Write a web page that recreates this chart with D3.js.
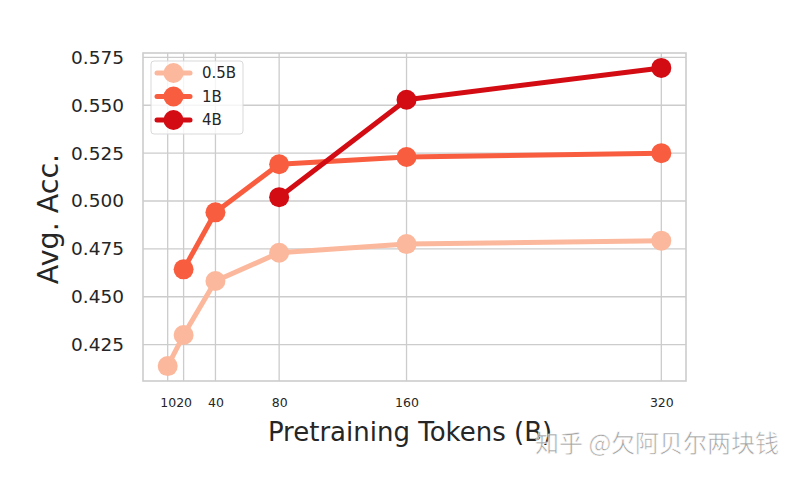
<!DOCTYPE html>
<html lang="en">
	<head>
		<meta charset="utf-8">
		<title>Avg. Acc. vs pretraining tokens</title>
		<script type="text/javascript" src="https://cdn.jsdelivr.net/npm/d3@7"></script>
		<style type="text/css">
			body { margin: 0; background: #fff; }
			text { font-family: "DejaVu Sans", sans-serif; }
		</style>
	</head>
	<body>
		<script type="text/javascript">

			//Data
			var tokens = [10, 20, 40, 80, 160, 320];
			var seriesNames = ["0.5B", "1B", "4B"];
			var acc05 = [0.4138, 0.430, 0.4582, 0.4730, 0.4775, 0.4793];
			var acc1 = [null, 0.4643, 0.4941, 0.5192, 0.5230, 0.5250];
			var acc4 = [null, null, null, 0.5020, 0.5529, 0.5695];
			var yTicks = [0.425, 0.450, 0.475, 0.500, 0.525, 0.550, 0.575];
			var colors = ["#fcb89c", "#f95d3f", "#d30b13"];

			var w = 794;
			var h = 480;
			//plot box (note: "top" is taken by window.top, so use px*)
			var pxLeft = 143, pxRight = 686, pxTop = 53, pxBottom = 381;

			var svg = d3.select("body")
						.append("svg")
						.attr("width", w)
						.attr("height", h);

			var xScale = d3.scaleLinear()
						.domain([-5.5, 335.5])
						.range([pxLeft, pxRight]);

			var yScale = d3.scaleLinear()
						.domain([0.406, 0.5773])
						.range([pxBottom, pxTop]);

			//grid
			svg.append("g")
				.selectAll("line")
				.data(tokens)
				.enter()
				.append("line")
				.attr("x1", function(d) { return xScale(d); })
				.attr("x2", function(d) { return xScale(d); })
				.attr("y1", pxTop)
				.attr("y2", pxBottom)
				.attr("stroke", "#cccccc")
				.attr("stroke-width", 1.3);

			svg.append("g")
				.selectAll("line")
				.data(yTicks)
				.enter()
				.append("line")
				.attr("x1", pxLeft)
				.attr("x2", pxRight)
				.attr("y1", function(d) { return yScale(d); })
				.attr("y2", function(d) { return yScale(d); })
				.attr("stroke", "#cccccc")
				.attr("stroke-width", 1.3);

			//frame
			svg.append("rect")
				.attr("x", pxLeft)
				.attr("y", pxTop)
				.attr("width", pxRight - pxLeft)
				.attr("height", pxBottom - pxTop)
				.attr("fill", "none")
				.attr("stroke", "#cccccc")
				.attr("stroke-width", 1.6);

			//axes (labels only)
			var yAxis = d3.axisLeft(yScale)
						.tickValues(yTicks)
						.tickFormat(d3.format(".3f"))
						.tickSize(0)
						.tickPadding(19);
			var gy = svg.append("g")
						.attr("transform", "translate(" + pxLeft + ",0)")
						.call(yAxis);
			gy.select(".domain").remove();
			gy.selectAll("text")
				.attr("font-size", "18.5px")
				.attr("fill", "#262626")
				.style("font-family", "DejaVu Sans");

			var xAxis = d3.axisBottom(xScale)
						.tickValues(tokens)
						.tickFormat(d3.format("d"))
						.tickSize(0)
						.tickPadding(17);
			var gx = svg.append("g")
						.attr("transform", "translate(0," + pxBottom + ")")
						.call(xAxis);
			gx.select(".domain").remove();
			gx.selectAll("text")
				.attr("font-size", "12.5px")
				.attr("fill", "#262626")
				.style("font-family", "DejaVu Sans");

			svg.append("text")
				.attr("x", 410)
				.attr("y", 441)
				.attr("text-anchor", "middle")
				.attr("font-size", "26px")
				.attr("fill", "#262626")
				.text("Pretraining Tokens (B)");

			svg.append("text")
				.attr("transform", "translate(58,219) rotate(-90)")
				.attr("text-anchor", "middle")
				.attr("font-size", "28.5px")
				.attr("fill", "#262626")
				.text("Avg. Acc.");

			//lines and markers
			var allSeries = [acc05, acc1, acc4];
			var line = d3.line()
						.defined(function(d) { return d[1] !== null; })
						.x(function(d) { return xScale(d[0]); })
						.y(function(d) { return yScale(d[1]); });

			allSeries.forEach(function(vals, i) {
				var pts = tokens.map(function(t, j) { return [t, vals[j]]; });
				svg.append("path")
					.datum(pts)
					.attr("d", line)
					.attr("fill", "none")
					.attr("stroke", colors[i])
					.attr("stroke-width", 5)
					.attr("stroke-linejoin", "round");
				svg.append("g")
					.selectAll("circle")
					.data(pts.filter(function(d) { return d[1] !== null; }))
					.enter()
					.append("circle")
					.attr("cx", function(d) { return xScale(d[0]); })
					.attr("cy", function(d) { return yScale(d[1]); })
					.attr("r", 10)
					.attr("fill", colors[i]);
			});

			//legend
			var legend = svg.append("g");
			legend.append("rect")
				.attr("x", 151)
				.attr("y", 61)
				.attr("width", 92)
				.attr("height", 73)
				.attr("rx", 3)
				.attr("fill", "#ffffff")
				.attr("fill-opacity", 0.8)
				.attr("stroke", "#d9d9d9")
				.attr("stroke-width", 1);

			seriesNames.forEach(function(name, i) {
				var ly = 73 + i * 23.5;
				legend.append("line")
					.attr("x1", 157)
					.attr("x2", 190)
					.attr("y1", ly)
					.attr("y2", ly)
					.attr("stroke", colors[i])
					.attr("stroke-width", 5)
					.attr("stroke-linecap", "round");
				legend.append("circle")
					.attr("cx", 173.5)
					.attr("cy", ly)
					.attr("r", 10)
					.attr("fill", colors[i]);
				legend.append("text")
					.attr("x", 202)
					.attr("y", ly + 5)
					.attr("font-size", "15px")
					.attr("fill", "#262626")
					.text(name);
			});

			//watermark
			svg.append("text")
				.attr("x", 535)
				.attr("y", 452)
				.attr("font-size", "24px")
				.attr("fill", "#9a9a9a")
				.attr("stroke", "#ffffff")
				.attr("stroke-width", 0.6)
				.attr("opacity", 0.9)
				.style("font-family", "Noto Sans CJK SC")
				.text("知乎 @欠阿贝尔两块钱");

		</script>
	</body>
</html>
